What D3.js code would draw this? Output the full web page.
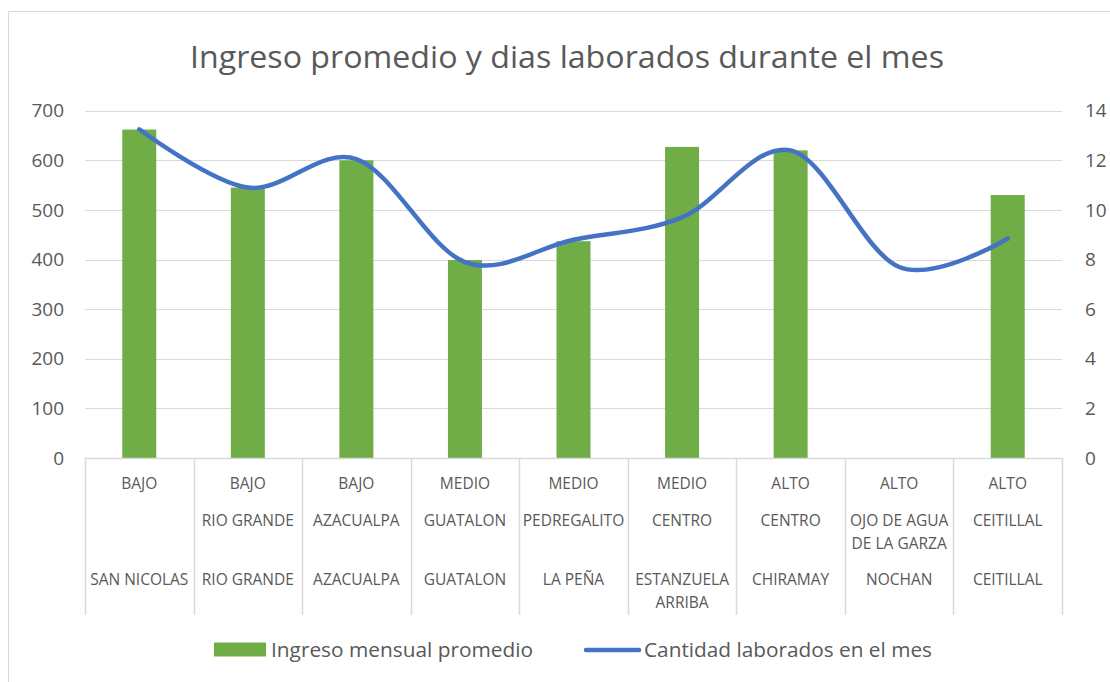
<!DOCTYPE html>
<html>
<head>
<meta charset="utf-8">
<script src="https://cdn.jsdelivr.net/npm/d3@7"></script>
<style>
  html, body { margin: 0; padding: 0; background: #fff; }
  text { font-family: "Open Sans", sans-serif; fill: #595959; }
</style>
</head>
<body>
<svg id="chart" width="1110" height="682"></svg>
<script>
// data
const nivel = ['BAJO', 'BAJO', 'BAJO', 'MEDIO', 'MEDIO', 'MEDIO', 'ALTO', 'ALTO', 'ALTO'];
const zona = ['', 'RIO GRANDE', 'AZACUALPA', 'GUATALON', 'PEDREGALITO', 'CENTRO', 'CENTRO', 'OJO DE AGUA|DE LA GARZA', 'CEITILLAL'];
const comunidad = ['SAN NICOLAS', 'RIO GRANDE', 'AZACUALPA', 'GUATALON', 'LA PEÑA', 'ESTANZUELA|ARRIBA', 'CHIRAMAY', 'NOCHAN', 'CEITILLAL'];
const ingreso = [662, 545, 600, 399, 437, 627, 620, null, 530];
const dias = [13.25, 10.9, 12.05, 7.9, 8.8, 9.7, 12.4, 7.7, 8.85];
const leftTicks = [0, 100, 200, 300, 400, 500, 600, 700];
const rightTicks = [0, 2, 4, 6, 8, 10, 12, 14];

const svg = d3.select('#chart');
const green = '#70AD47';
const blue = '#4472C4';
const grid = '#d9d9d9';

const plot = { left: 85, right: 1062, top: 110.7, bottom: 458 };

// outer chart border
svg.append('rect')
  .attr('x', 8.5).attr('y', 11.5)
  .attr('width', 1120).attr('height', 700)
  .attr('fill', 'none').attr('stroke', grid).attr('stroke-width', 1);

// title
svg.append('text')
  .attr('x', 567).attr('y', 68)
  .attr('text-anchor', 'middle')
  .attr('font-size', 31)
  .attr('textLength', 754).attr('lengthAdjust', 'spacingAndGlyphs')
  .text('Ingreso promedio y dias laborados durante el mes');

const x = d3.scaleBand()
  .domain(d3.range(nivel.length))
  .range([plot.left, plot.right]);

const yL = d3.scaleLinear().domain([0, 700]).range([plot.bottom, plot.top]);
const yR = d3.scaleLinear().domain([0, 14]).range([plot.bottom, plot.top]);

// gridlines
svg.append('g')
  .selectAll('line')
  .data(leftTicks.filter(d => d > 0))
  .enter()
  .append('line')
  .attr('x1', plot.left).attr('x2', plot.right)
  .attr('y1', d => Math.round(yL(d)) + 0.5).attr('y2', d => Math.round(yL(d)) + 0.5)
  .attr('stroke', grid).attr('stroke-width', 1.2);

// left axis
const gL = svg.append('g')
  .attr('transform', `translate(${plot.left - 21},0)`)
  .call(d3.axisLeft(yL).tickValues(leftTicks).tickSize(0).tickPadding(0));
gL.select('.domain').remove();
gL.selectAll('text').attr('font-size', 19).attr('fill', '#595959').style('font-family', '"Open Sans", sans-serif');

// right axis
const gR = svg.append('g')
  .attr('transform', `translate(${plot.right + 23},0)`)
  .call(d3.axisRight(yR).tickValues(rightTicks).tickSize(0).tickPadding(0));
gR.select('.domain').remove();
gR.selectAll('text').attr('font-size', 19).attr('fill', '#595959').style('font-family', '"Open Sans", sans-serif');

// bars
const barW = 34;
svg.append('g')
  .selectAll('rect')
  .data(ingreso.map((v, i) => ({ v, i })).filter(d => d.v != null))
  .enter()
  .append('rect')
  .attr('x', d => x(d.i) + x.bandwidth() / 2 - barW / 2)
  .attr('y', d => yL(d.v))
  .attr('width', barW)
  .attr('height', d => yL(0) - yL(d.v))
  .attr('fill', green);

// category axis: baseline plus separators
svg.append('line')
  .attr('x1', plot.left).attr('x2', plot.right)
  .attr('y1', plot.bottom + 0.5).attr('y2', plot.bottom + 0.5)
  .attr('stroke', grid).attr('stroke-width', 1.5);

const bounds = d3.range(nivel.length + 1).map(i => i < nivel.length ? x(i) : plot.right);
svg.append('g')
  .selectAll('line')
  .data(bounds)
  .enter()
  .append('line')
  .attr('x1', d => Math.round(d) + 0.5).attr('x2', d => Math.round(d) + 0.5)
  .attr('y1', plot.bottom).attr('y2', 615)
  .attr('stroke', grid).attr('stroke-width', 1.5);

// multi-level labels
const rows = [
  { data: nivel, y: 489 },
  { data: zona, y: 526 },
  { data: comunidad, y: 585 }
];
rows.forEach(row => {
  row.data.forEach((label, i) => {
    if (!label) return;
    const t = svg.append('text')
      .attr('x', x(i) + x.bandwidth() / 2)
      .attr('y', row.y)
      .attr('text-anchor', 'middle')
      .attr('font-size', 15.5);
    label.split('|').forEach((part, k) => {
      t.append('tspan')
        .attr('x', x(i) + x.bandwidth() / 2)
        .attr('dy', k === 0 ? 0 : 23)
        .text(part);
    });
  });
});

// smooth line
const line = d3.line()
  .x((d, i) => x(i) + x.bandwidth() / 2)
  .y(d => yR(d))
  .curve(d3.curveCardinal.tension(0));

svg.append('path')
  .datum(dias)
  .attr('d', line)
  .attr('fill', 'none')
  .attr('stroke', blue)
  .attr('stroke-width', 4.5)
  .attr('stroke-linecap', 'round')
  .attr('stroke-linejoin', 'round');

// legend
const legend = svg.append('g');
legend.append('rect')
  .attr('x', 214).attr('y', 642.5)
  .attr('width', 52).attr('height', 14)
  .attr('fill', green);
legend.append('text')
  .attr('x', 271).attr('y', 657)
  .attr('font-size', 20)
  .attr('textLength', 262).attr('lengthAdjust', 'spacingAndGlyphs')
  .text('Ingreso mensual promedio');
legend.append('line')
  .attr('x1', 586).attr('x2', 639)
  .attr('y1', 650).attr('y2', 650)
  .attr('stroke', blue).attr('stroke-width', 4.5)
  .attr('stroke-linecap', 'round');
legend.append('text')
  .attr('x', 644).attr('y', 657)
  .attr('font-size', 20)
  .attr('textLength', 288).attr('lengthAdjust', 'spacingAndGlyphs')
  .text('Cantidad laborados en el mes');
</script>
</body>
</html>
